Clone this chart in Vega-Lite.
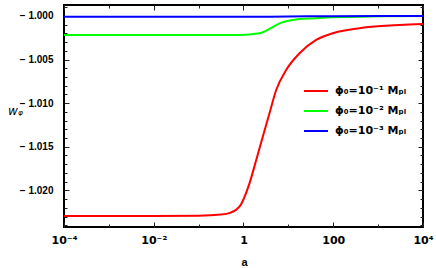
{
  "$schema": "https://vega.github.io/schema/vega-lite/v6.json",
  "width": 359,
  "height": 222,
  "autosize": {"type": "none"},
  "padding": {"left": 64, "top": 5, "right": 13, "bottom": 41},
  "background": "white",
  "config": {
    "view": {"stroke": "black", "strokeWidth": 2},
    "font": "Liberation Sans",
    "axis": {"domain": false, "grid": false, "tickColor": "#222", "tickWidth": 1, "labelFont": "Liberation Sans", "labelFontWeight": "bold", "labelFontSize": 10, "labelColor": "black", "titleFont": "Liberation Sans", "titleColor": "black"}
  },
  "data": {"values": [
    {"s": "phi1", "a": 0.0001, "w": -1.02294},
    {"s": "phi1", "a": 0.001, "w": -1.02294},
    {"s": "phi1", "a": 0.01, "w": -1.02294},
    {"s": "phi1", "a": 0.1, "w": -1.02291},
    {"s": "phi1", "a": 0.316, "w": -1.02278},
    {"s": "phi1", "a": 0.5, "w": -1.02258},
    {"s": "phi1", "a": 0.815, "w": -1.02187},
    {"s": "phi1", "a": 1.36, "w": -1.01919},
    {"s": "phi1", "a": 1.92, "w": -1.01652},
    {"s": "phi1", "a": 2.69, "w": -1.01384},
    {"s": "phi1", "a": 3.79, "w": -1.01116},
    {"s": "phi1", "a": 5.35, "w": -1.00849},
    {"s": "phi1", "a": 8.93, "w": -1.00619},
    {"s": "phi1", "a": 17.7, "w": -1.00428},
    {"s": "phi1", "a": 41.6, "w": -1.00275},
    {"s": "phi1", "a": 97.5, "w": -1.00198},
    {"s": "phi1", "a": 541, "w": -1.0013},
    {"s": "phi1", "a": 2979, "w": -1.00103},
    {"s": "phi1", "a": 10000, "w": -1.00092},
    {"s": "phi2", "a": 0.0001, "w": -1.00218},
    {"s": "phi2", "a": 0.01, "w": -1.00218},
    {"s": "phi2", "a": 0.81, "w": -1.00217},
    {"s": "phi2", "a": 2.27, "w": -1.00198},
    {"s": "phi2", "a": 3.79, "w": -1.00149},
    {"s": "phi2", "a": 6.34, "w": -1.00084},
    {"s": "phi2", "a": 12.5, "w": -1.00046},
    {"s": "phi2", "a": 41.6, "w": -1.00026},
    {"s": "phi2", "a": 95.5, "w": -1.00015},
    {"s": "phi2", "a": 1000, "w": -1.00004},
    {"s": "phi2", "a": 10000, "w": -1.0},
    {"s": "phi3", "a": 0.0001, "w": -1.0001},
    {"s": "phi3", "a": 1, "w": -1.0001},
    {"s": "phi3", "a": 10, "w": -1.00006},
    {"s": "phi3", "a": 100, "w": -1.00002},
    {"s": "phi3", "a": 10000, "w": -1.0}
  ]},
  "layer": [
    {
      "mark": {"type": "line", "interpolate": "monotone", "strokeWidth": 2, "clip": true},
      "encoding": {
        "x": {"field": "a", "type": "quantitative",
          "scale": {"type": "log", "domain": [0.0001, 10000], "nice": false},
          "axis": {"orient": "bottom", "values": [0.0001, 0.001, 0.01, 0.1, 1, 10, 100, 1000, 10000],
            "labelExpr": "datum.value < 0.0002 ? '10⁻⁴' : (datum.value > 0.005 && datum.value < 0.02) ? '10⁻²' : (datum.value > 0.5 && datum.value < 2) ? '1' : (datum.value > 50 && datum.value < 200) ? '100' : datum.value > 5000 ? '10⁴' : ''",
            "tickSize": {"condition": {"test": "datum.value < 0.0002 || (datum.value > 0.005 && datum.value < 0.02) || (datum.value > 0.5 && datum.value < 2) || (datum.value > 50 && datum.value < 200) || datum.value > 5000", "value": -5}, "value": -3},
            "labelFont": "DejaVu Sans", "labelFontSize": 11,
            "labelPadding": 12, "labelFlush": false, "labelOverlap": false,
            "title": "a", "titleFontSize": 11, "titleFontWeight": "bold", "titleX": 180, "titleY": 35, "titleBaseline": "middle"}},
        "y": {"field": "w", "type": "quantitative",
          "scale": {"domain": [-1.0242, -0.99874], "nice": false, "zero": false},
          "axis": {"orient": "left", "values": [-1.024, -1.023, -1.022, -1.021, -1.02, -1.019, -1.018, -1.017, -1.016, -1.015, -1.014, -1.013, -1.012, -1.011, -1.01, -1.009, -1.008, -1.007, -1.006, -1.005, -1.004, -1.003, -1.002, -1.001, -1.0, -0.999],
            "labelExpr": "abs(datum.value*200 - round(datum.value*200)) < 0.000001 ? replace(format(datum.value, '.3f'), '−', '− ') : ''",
            "tickSize": {"condition": {"test": "abs(datum.value*200 - round(datum.value*200)) < 0.000001", "value": -5}, "value": -3},
            "labelPadding": 16, "labelOverlap": false,
            "title": "wᵩ", "titleFont": "DejaVu Sans", "titleAngle": 0, "titleFontSize": 12, "titleFontStyle": "italic", "titleFontWeight": "normal", "titleX": -49, "titleY": 105, "titleAlign": "center", "titleBaseline": "middle"}},
        "color": {"field": "s", "type": "nominal",
          "scale": {"domain": ["phi1", "phi2", "phi3"], "range": ["#ff0000", "#00ff00", "#0000ff"]},
          "legend": {"orient": "none", "legendX": 239, "legendY": 73, "padding": 0, "title": null,
            "symbolType": "stroke", "symbolSize": 576, "symbolStrokeWidth": 2, "rowPadding": 2, "labelOffset": 6,
            "labelFont": "DejaVu Sans", "labelFontSize": 11, "labelFontWeight": "bold", "labelColor": "black",
            "labelExpr": "datum.value == 'phi1' ? 'ϕ₀=10⁻¹ Mₚₗ' : datum.value == 'phi2' ? 'ϕ₀=10⁻² Mₚₗ' : 'ϕ₀=10⁻³ Mₚₗ'"}}
      }
    },
    {
      "mark": {"type": "line", "opacity": 0},
      "encoding": {
        "x": {"field": "a", "type": "quantitative",
          "scale": {"type": "log", "domain": [0.0001, 10000], "nice": false},
          "axis": {"orient": "top", "values": [0.0001, 0.001, 0.01, 0.1, 1, 10, 100, 1000, 10000], "labels": false, "title": null,
            "tickSize": {"condition": {"test": "datum.value < 0.0002 || (datum.value > 0.005 && datum.value < 0.02) || (datum.value > 0.5 && datum.value < 2) || (datum.value > 50 && datum.value < 200) || datum.value > 5000", "value": -5}, "value": -3}}},
        "y": {"field": "w", "type": "quantitative",
          "scale": {"domain": [-1.0242, -0.99874], "nice": false, "zero": false},
          "axis": {"orient": "right", "values": [-1.024, -1.023, -1.022, -1.021, -1.02, -1.019, -1.018, -1.017, -1.016, -1.015, -1.014, -1.013, -1.012, -1.011, -1.01, -1.009, -1.008, -1.007, -1.006, -1.005, -1.004, -1.003, -1.002, -1.001, -1.0, -0.999], "labels": false, "title": null,
            "tickSize": {"condition": {"test": "abs(datum.value*200 - round(datum.value*200)) < 0.000001", "value": -5}, "value": -3}}}
      }
    }
  ],
  "resolve": {"axis": {"x": "independent", "y": "independent"}}
}
